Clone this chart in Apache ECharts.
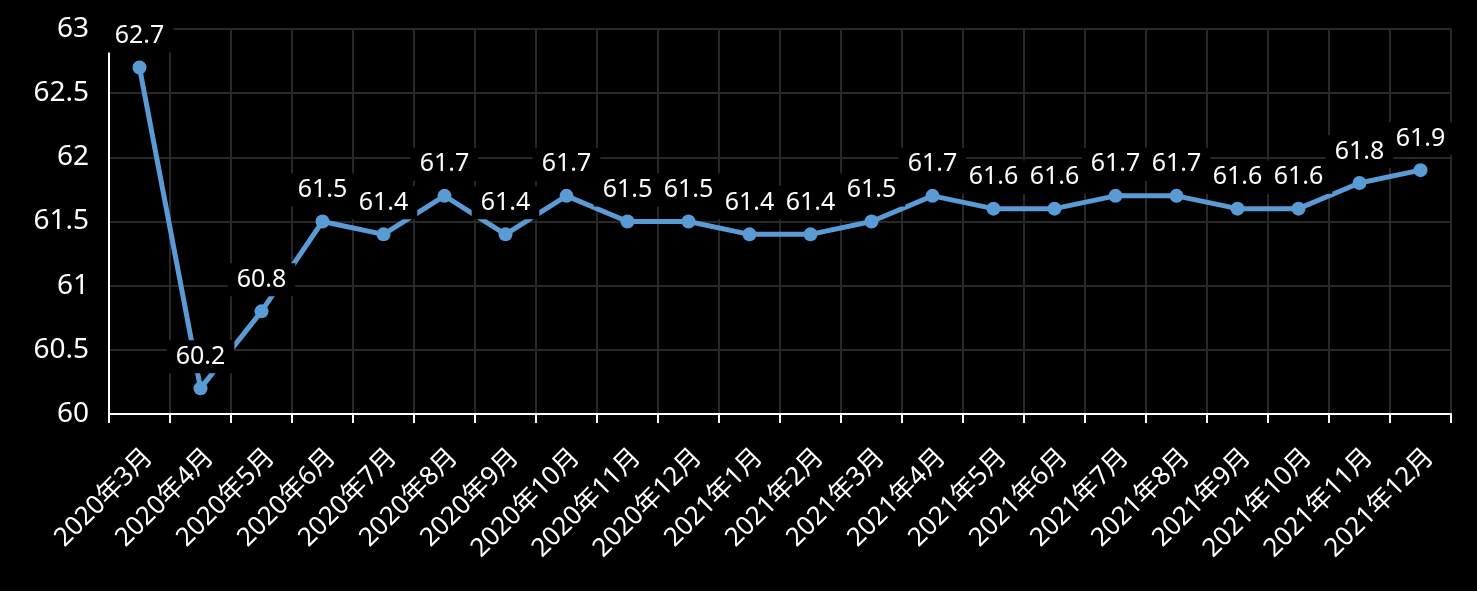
<!DOCTYPE html>
<html>
<head>
<meta charset="utf-8">
<script src="https://cdn.jsdelivr.net/npm/echarts@6/dist/echarts.min.js"></script>
<style>
html,body{margin:0;padding:0;background:#000;}
#main{width:1477px;height:591px;}
</style>
</head>
<body>
<div id="main"></div>
<script>
const categories = ["2020年3月","2020年4月","2020年5月","2020年6月","2020年7月","2020年8月","2020年9月","2020年10月","2020年11月","2020年12月","2021年1月","2021年2月","2021年3月","2021年4月","2021年5月","2021年6月","2021年7月","2021年8月","2021年9月","2021年10月","2021年11月","2021年12月"];
const values = [62.7,60.2,60.8,61.5,61.4,61.7,61.4,61.7,61.5,61.5,61.4,61.4,61.5,61.7,61.6,61.6,61.7,61.7,61.6,61.6,61.8,61.9];
const yMin = 60, yMax = 63, yStep = 0.5;

const FONT = "'Noto Sans', 'Noto Sans CJK SC', sans-serif";
const chart = echarts.init(document.getElementById('main'));
chart.setOption({
  backgroundColor: '#000',
  animation: false,
  grid: {left: 109, right: 26, top: 29, bottom: 177, containLabel: false},
  xAxis: {
    type: 'category',
    data: categories,
    boundaryGap: true,
    axisLine: {show: true, lineStyle: {color: '#fff', width: 2}},
    axisTick: {show: true, length: 9, lineStyle: {color: '#fff', width: 2}},
    axisLabel: {rotate: 45, color: '#fff', fontSize: 26, fontFamily: FONT, margin: 30, interval: 0, verticalAlign: 'top'},
    splitLine: {show: true, lineStyle: {color: '#282828', width: 2}}
  },
  yAxis: {
    type: 'value',
    min: yMin, max: yMax, interval: yStep,
    axisLine: {show: true, lineStyle: {color: '#fff', width: 2}},
    axisTick: {show: false},
    axisLabel: {color: '#fff', fontSize: 28, fontFamily: FONT, margin: 20},
    splitLine: {show: true, lineStyle: {color: '#282828', width: 2}}
  },
  series: [{
    type: 'line',
    data: values,
    symbol: 'circle',
    symbolSize: 14,
    lineStyle: {color: '#5b9bd5', width: 5},
    itemStyle: {color: '#5b9bd5'},
    label: {
      show: true,
      position: 'top',
      distance: 8,
      color: '#fff',
      fontSize: 25,
      fontFamily: FONT,
      backgroundColor: '#000',
      padding: [4, 9, 4, 9]
    },
    z: 3
  }]
});
</script>
</body>
</html>
